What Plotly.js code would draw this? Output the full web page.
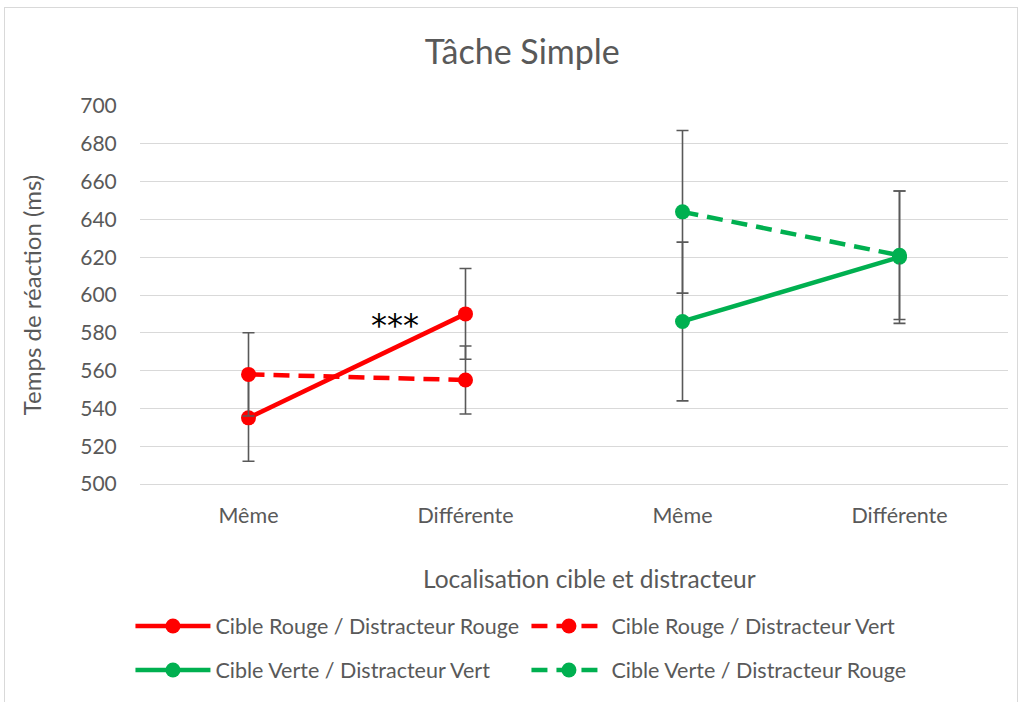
<!DOCTYPE html>
<html><head><meta charset="utf-8">
<script src="https://cdn.plot.ly/plotly-3.0.1.min.js"></script>
<style>
html,body{margin:0;padding:0;background:#fff;}
#frame{position:absolute;left:4px;top:7px;width:1014px;height:720px;border:1px solid #d9d9d9;box-sizing:border-box;}
#chart{position:absolute;left:0;top:0;width:1024px;height:702px;}
</style></head>
<body>
<div id="frame"></div>
<div id="chart"></div>
<script>
const tickPositions = [0, 1, 2, 3];
const tickLabels = ["Même", "Différente", "Même", "Différente"];
const redX = [0, 1];
const greenX = [2, 3];
const rougeRouge = [535, 590];
const rougeRougeErr = [23, 24];
const rougeVert = [558, 555];
const rougeVertErr = [22, 18];
const verteVert = [586, 620];
const verteVertErr = [42, 35];
const verteRouge = [644, 621];
const verteRougeErr = [43, 34];
const seriesNames = ["Cible Rouge / Distracteur Rouge", "Cible Rouge / Distracteur Vert", "Cible Verte / Distracteur Vert", "Cible Verte / Distracteur Rouge"];
const RED = "#FF0000", GREEN = "#00B050";
const FONT = "Lato, 'Open Sans', sans-serif";

function tr(name, x, y, err, color, dash, legend){
  return {
    type: "scatter", mode: "lines+markers", name: name, x: x, y: y,
    line: {color: color, width: 4.5, dash: dash},
    marker: {color: color, size: 15},
    error_y: {type: "data", array: err, visible: true, color: "#595959", thickness: 1.6, width: 6},
    legend: legend
  };
}
const data = [
  tr(seriesNames[0], redX, rougeRouge, rougeRougeErr, RED, "solid", "legend"),
  tr(seriesNames[1], redX, rougeVert, rougeVertErr, RED, "16px,9px", "legend"),
  tr(seriesNames[2], greenX, verteVert, verteVertErr, GREEN, "solid", "legend2"),
  tr(seriesNames[3], greenX, verteRouge, verteRougeErr, GREEN, "16px,9px", "legend2")
];
const legendCommon = {orientation: "h", xanchor: "left", yanchor: "middle", font: {family: FONT, size: 21.5, color: "#595959"}, entrywidth: 306, entrywidthmode: "pixels", bgcolor: "rgba(0,0,0,0)", itemwidth: 75};
const layout = {
  width: 1024, height: 702,
  paper_bgcolor: "rgba(0,0,0,0)", plot_bgcolor: "#fff",
  margin: {l: 140, r: 16, t: 106, b: 218},
  font: {family: FONT, color: "#595959"},
  title: {text: "Tâche Simple", font: {family: FONT, size: 34, color: "#595959"}, x: 0.51, xanchor: "center", y: 1 - 52/702, yanchor: "middle", yref: "container"},
  xaxis: {
    range: [-0.5, 3.5], tickmode: "array", tickvals: tickPositions, ticktext: tickLabels,
    showgrid: false, zeroline: false, showline: true, linecolor: "#d9d9d9", linewidth: 1,
    ticks: "outside", ticklen: 12, tickcolor: "rgba(0,0,0,0)",
    tickfont: {family: FONT, size: 21.5, color: "#595959"}
  },
  yaxis: {
    range: [500, 700], dtick: 20, tick0: 500, showgrid: true, gridcolor: "#d9d9d9", gridwidth: 1, zeroline: false,
    ticks: "outside", ticklen: 18, tickcolor: "rgba(0,0,0,0)",
    tickfont: {family: FONT, size: 21, color: "#595959"},
    title: {text: "Temps de réaction (ms)", font: {family: FONT, size: 24, color: "#595959"}, standoff: 31}
  },
  legend: Object.assign({x: -0.011, y: (484-626)/378}, legendCommon),
  legend2: Object.assign({x: -0.011, y: (484-670)/378}, legendCommon),
  annotations: [
    {x: 0.675, y: 584, xref: "x", yref: "y", text: "***", showarrow: false, font: {family: "DejaVu Sans, sans-serif", size: 32, color: "#000"}, yanchor: "middle"},
    {x: (589 - 140)/868, y: (484 - 578)/378, xref: "paper", yref: "paper", text: "Localisation cible et distracteur", showarrow: false, xanchor: "center", yanchor: "middle", font: {family: FONT, size: 24.5, color: "#595959"}}
  ],
  showlegend: true
};
Plotly.newPlot("chart", data, layout, {displayModeBar: false, staticPlot: true});
</script>
</body></html>
